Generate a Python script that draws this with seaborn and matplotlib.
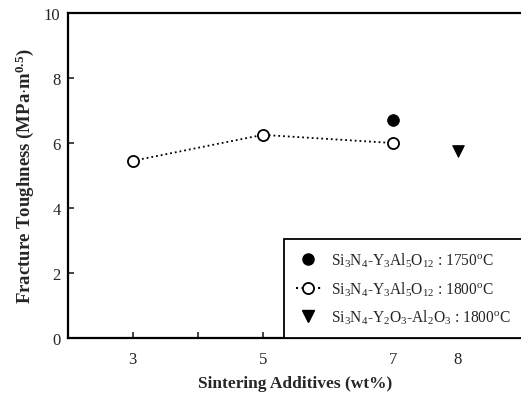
import matplotlib
matplotlib.use("Agg")
import matplotlib.pyplot as plt
import seaborn as sns
import pandas as pd
from matplotlib.lines import Line2D


# =========================================
# Data
# =========================================

additive_1800 = [3, 5, 7]
toughness_1800 = [5.45, 6.25, 6.0]

additive_1750 = [7]
toughness_1750 = [6.72]

additive_yo = [8]
toughness_yo = [5.75]

x_ticks = [3, 5, 7, 8]
x_minor = [4, 6]
y_ticks = [0, 2, 4, 6, 8, 10]

labels = [
    r"Si$_3$N$_4$-Y$_3$Al$_5$O$_{12}$ : 1750$^{\rm o}$C",
    r"Si$_3$N$_4$-Y$_3$Al$_5$O$_{12}$ : 1800$^{\rm o}$C",
    r"Si$_3$N$_4$-Y$_2$O$_3$-Al$_2$O$_3$ : 1800$^{\rm o}$C",
]


# =========================================
# Style
# =========================================

sns.set_style("ticks")
plt.rcParams["font.family"] = ["Liberation Serif", "DejaVu Serif"]
plt.rcParams["mathtext.fontset"] = "custom"
plt.rcParams["mathtext.rm"] = "Liberation Serif"
plt.rcParams["mathtext.bf"] = "Liberation Serif:bold"
plt.rcParams["mathtext.it"] = "Liberation Serif:italic"


# =========================================
# Plot
# =========================================

fig = plt.figure(figsize=(5.21, 4.02), dpi=100)
ax = fig.add_axes([0.1296, 0.1567, 0.874, 0.8085])

df_1800 = pd.DataFrame({"x": additive_1800, "y": toughness_1800})
df_1750 = pd.DataFrame({"x": additive_1750, "y": toughness_1750})
df_yo = pd.DataFrame({"x": additive_yo, "y": toughness_yo})

sns.lineplot(
    data=df_1800, x="x", y="y", ax=ax,
    color="black", linestyle=":", linewidth=1.3,
    marker="o", markersize=8, markerfacecolor="white",
    markeredgecolor="black", markeredgewidth=1.3
)

sns.scatterplot(
    data=df_1750, x="x", y="y", ax=ax,
    color="black", marker="o", s=70, edgecolor="black"
)

sns.scatterplot(
    data=df_yo, x="x", y="y", ax=ax,
    color="black", marker="v", s=70, edgecolor="black"
)

ax.set_xlim(2, 9)
ax.set_ylim(0, 10)
ax.set_xticks(x_ticks)
ax.set_xticks(x_minor, minor=True)
ax.set_yticks(y_ticks)
ax.tick_params(direction="in", length=4, width=1.2, labelsize=12)
ax.tick_params(axis="x", pad=9)
ax.tick_params(axis="y", pad=5)
ax.tick_params(which="minor", direction="in", length=4, width=1.2)

for side in ["left", "bottom", "top", "right"]:
    ax.spines[side].set_linewidth(1.6)
    ax.spines[side].set_color("black")

ax.set_xlabel("Sintering Additives (wt%)", fontsize=12.5,
              fontweight="bold", labelpad=6)
ax.set_ylabel(r"Fracture Toughness (MPa$\cdot$m$^{\mathbf{0.5}}$)",
              fontsize=13.5, fontweight="bold", labelpad=6)

handles = [
    Line2D([], [], color="black", marker="o", linestyle="none",
           markersize=8),
    Line2D([], [], color="black", marker="o", linestyle=":",
           markersize=8, markerfacecolor="white", markeredgewidth=1.3),
    Line2D([], [], color="black", marker="v", linestyle="none",
           markersize=8),
]

leg = ax.legend(
    handles, labels, loc="lower right", borderaxespad=0,
    fontsize=11.2, frameon=True, fancybox=False, handlelength=1.6,
    labelspacing=0.65, borderpad=0.75, handletextpad=0.7
)
leg.get_frame().set_edgecolor("black")
leg.get_frame().set_linewidth(1.3)
leg.get_frame().set_alpha(1)

fig.savefig("out.png", dpi=100)
plt.close(fig)
